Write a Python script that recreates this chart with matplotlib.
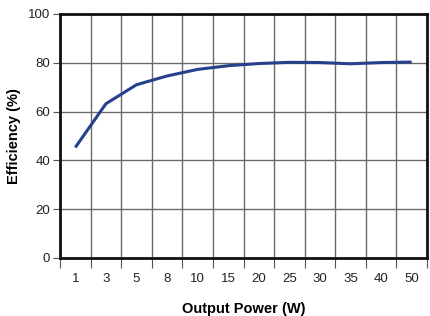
import matplotlib as mpl
mpl.use('Agg')
import matplotlib.pyplot as plt
import numpy as np

plt.rcParams['font.family'] = ['Liberation Sans', 'DejaVu Sans']

power_labels = ['1', '3', '5', '8', '10', '15', '20', '25', '30', '35', '40', '50']
efficiency = [45.3, 63.2, 71.0, 74.6, 77.3, 78.8, 79.7, 80.2, 80.1, 79.6, 80.1, 80.3]
y_ticks = [0, 20, 40, 60, 80, 100]


def draw():
    fig = plt.figure(figsize=(4.30, 3.16), dpi=100)
    ax = fig.add_axes([60 / 430, 58 / 316, 367 / 430, 244 / 316])

    n = len(power_labels)
    centers = np.arange(n) + 0.5
    ax.plot(centers, efficiency, '-', color='#27408b', lw=2.2,
            solid_capstyle='butt', solid_joinstyle='round')

    ax.set_xlim(0, n)
    ax.set_ylim(0, 100)

    # grid lines sit on category boundaries, labels in the middle
    ax.set_xticks(np.arange(n + 1))
    ax.set_xticklabels([])
    ax.set_xticks(centers, minor=True)
    ax.set_xticklabels(power_labels, minor=True)
    ax.tick_params(axis='x', which='major', length=7, width=0.8, color='#555555', direction='out')
    ax.tick_params(axis='x', which='minor', length=0, pad=11, labelsize=9.5, labelcolor='#222222')
    ax.set_yticks(y_ticks)
    ax.tick_params(axis='y', length=5, width=0.8, color='#555555', pad=2, labelsize=9.5, labelcolor='#222222')

    ax.grid(True, which='major', color='#6a6a6a', lw=1.0)
    ax.set_axisbelow(True)
    for s in ax.spines.values():
        s.set_linewidth(2.0)
        s.set_color('#111111')

    ax.set_xlabel('Output Power (W)', fontsize=10.5, fontweight='bold', labelpad=12)
    ax.set_ylabel('Efficiency (%)', fontsize=10.5, fontweight='bold', labelpad=5)

    plt.savefig('out.png', dpi=100)


if __name__ == '__main__':
    draw()
